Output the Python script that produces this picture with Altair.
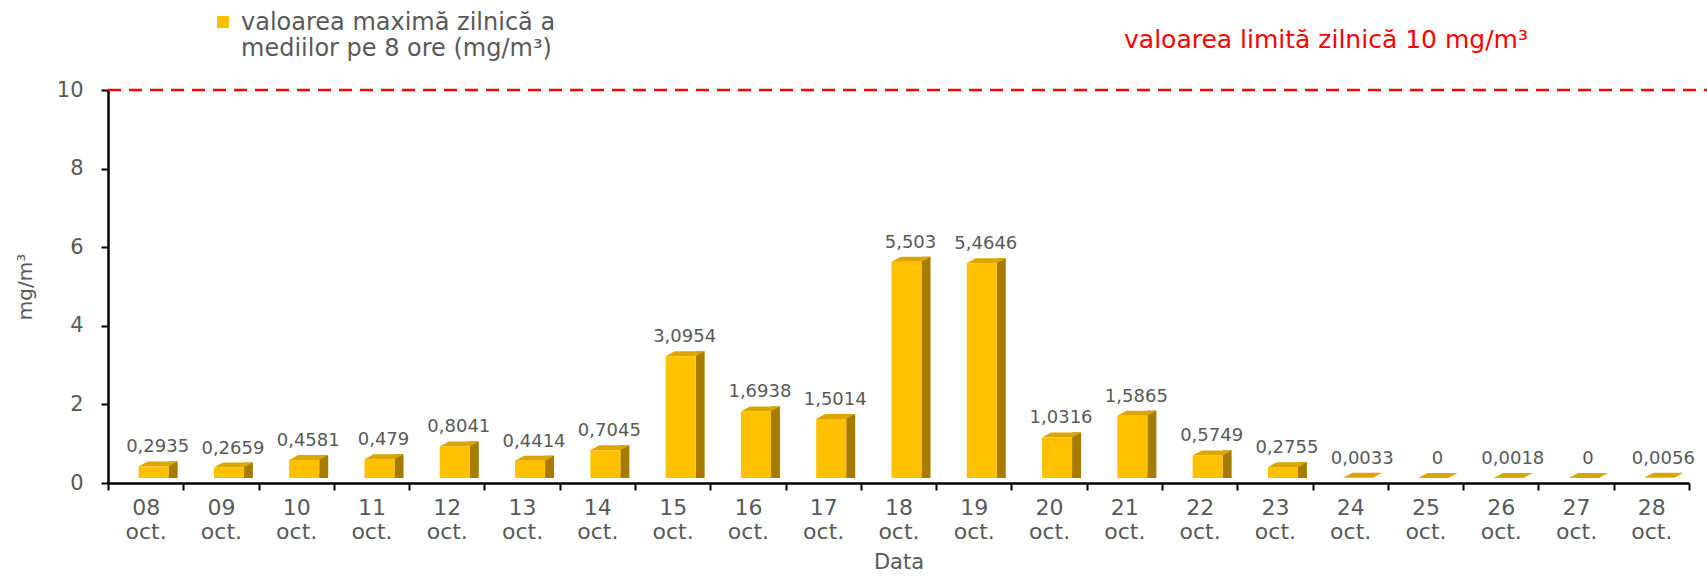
import altair as alt
import pandas as pd

# ---- data ----
dates = ["08 oct.", "09 oct.", "10 oct.", "11 oct.", "12 oct.", "13 oct.", "14 oct.",
         "15 oct.", "16 oct.", "17 oct.", "18 oct.", "19 oct.", "20 oct.", "21 oct.",
         "22 oct.", "23 oct.", "24 oct.", "25 oct.", "26 oct.", "27 oct.", "28 oct."]
values = [0.2935, 0.2659, 0.4581, 0.479, 0.8041, 0.4414, 0.7045,
          3.0954, 1.6938, 1.5014, 5.503, 5.4646, 1.0316, 1.5865,
          0.5749, 0.2755, 0.0033, 0, 0.0018, 0, 0.0056]
y_ticks = [0, 2, 4, 6, 8, 10]
legend_lines = ["valoarea maximă zilnică a", "mediilor pe 8 ore (mg/m³)"]
limit_value = [10]
limit_label = ["valoarea limită zilnică 10 mg/m³"]

df = pd.DataFrame({"date": dates, "v": values})

FONT = "DejaVu Sans"
GRAY = "#595959"
FRONT = "#FFC000"
SIDE = "#A67C00"
TOP = "#DCA500"
W, H = 1581, 393
TOP_PATH = "M-1,0.128L0.538,0.128L1,-0.128L-0.538,-0.128Z"
SIDE_FOOT_PATH = "M-1,-0.556L-1,0.556L1,-0.556Z"

x_enc = alt.X(
    "date:N", sort=dates, title="Data",
    scale=alt.Scale(paddingInner=0, paddingOuter=0),
    axis=alt.Axis(
        labelAngle=0, labelExpr="split(datum.label, ' ')",
        labelFont=FONT, labelFontSize=22, labelColor=GRAY, labelLineHeight=24,
        labelPadding=7, tickBand="extent", tickSize=7, tickColor="black",
        tickWidth=2, domainColor="black", domainWidth=2.5,
        titleFont=FONT, titleFontSize=21, titleColor=GRAY, titleFontWeight="normal",
        titleX=W / 2, titleY=79, titleBaseline="middle", titleAlign="center",
    ),
)
y_enc = alt.Y(
    "v:Q", title="mg/m³",
    scale=alt.Scale(domain=[0, 10], nice=False),
    axis=alt.Axis(
        values=y_ticks, grid=False, labelFont=FONT, labelFontSize=21,
        labelColor=GRAY, labelPadding=18, tickSize=7, tickColor="black",
        tickWidth=2, domainColor="black", domainWidth=2.5,
        titleFont=FONT, titleFontSize=20, titleColor=GRAY, titleFontWeight="normal",
        titleAngle=270, titleX=-83, titleY=H / 2, titleBaseline="middle",
        titleAlign="center",
    ),
)

base = alt.Chart(df).encode(x=x_enc, y=y_enc)
nonzero = base.transform_filter("datum.v > 0.05")

side = nonzero.mark_bar(
    width=9, xOffset=27.5, yOffset=-10, y2Offset=-5, color=SIDE
).encode(y2=alt.datum(0))
side_foot = nonzero.mark_point(
    shape=SIDE_FOOT_PATH, size=81, filled=True, color=SIDE, opacity=1,
    strokeWidth=0, xOffset=27.5, yOffset=-7.5
).encode(y=alt.datum(0))
top = base.mark_point(
    shape=TOP_PATH, size=1521, filled=True, color=TOP, opacity=1,
    strokeWidth=0, xOffset=12.5, yOffset=-7.5
)
front = base.mark_bar(width=30, xOffset=8, yOffset=-5, y2Offset=-5, color=FRONT)
labels = base.transform_calculate(
    label="replace(toString(datum.v), '.', ',')"
).mark_text(
    font=FONT, fontSize=18, color=GRAY, xOffset=12, yOffset=-24, baseline="middle"
).encode(text="label:N")

limit_rule = alt.Chart(pd.DataFrame({"v": limit_value})).mark_rule(
    color="#FF0000", strokeDash=[13, 8], strokeWidth=2.5
).encode(y=y_enc, x=alt.value(0), x2=alt.value(W + 18))

legend_sq = alt.Chart(pd.DataFrame({"k": [0]})).mark_rect(color=FRONT).encode(
    x=alt.value(109), x2=alt.value(121), y=alt.value(-74), y2=alt.value(-62)
)
legend_t1 = alt.Chart(pd.DataFrame({"t": [legend_lines[0]]})).mark_text(
    font=FONT, fontSize=24, color=GRAY, align="left", baseline="middle"
).encode(text="t:N", x=alt.value(133), y=alt.value(-67))
legend_t2 = alt.Chart(pd.DataFrame({"t": [legend_lines[1]]})).mark_text(
    font=FONT, fontSize=24, color=GRAY, align="left", baseline="middle"
).encode(text="t:N", x=alt.value(133), y=alt.value(-41))
limit_text = alt.Chart(pd.DataFrame({"t": limit_label})).mark_text(
    font=FONT, fontSize=25, color="#FF0000", align="center", baseline="middle"
).encode(text="t:N", x=alt.value(1218), y=alt.value(-50))

chart = alt.layer(
    side, side_foot, top, front, labels, limit_rule,
    legend_sq, legend_t1, legend_t2, limit_text
).properties(
    width=W, height=H,
    autosize=alt.AutoSizeParams(type="none"),
    padding={"left": 108, "top": 90, "right": 18, "bottom": 93},
    background="white",
).configure_view(stroke=None)

chart.save("out.html", embed_options={"renderer": "svg", "actions": False})
